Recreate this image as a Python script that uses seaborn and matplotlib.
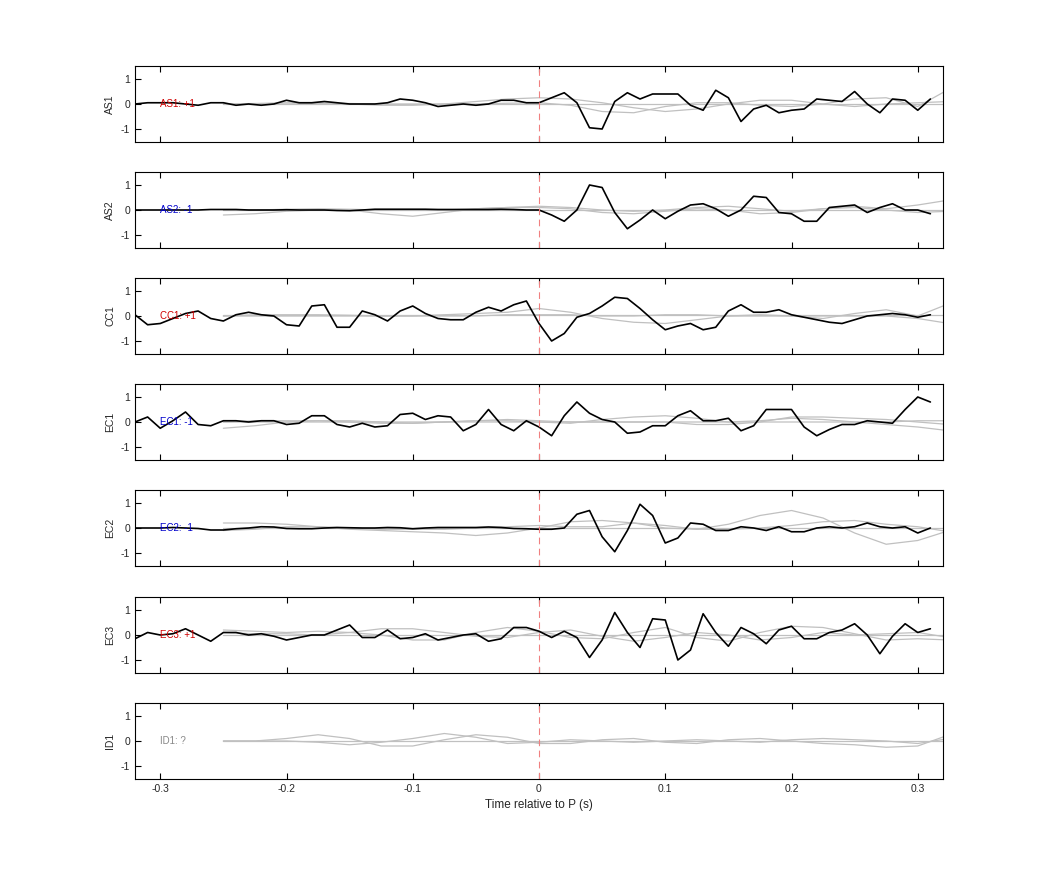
import numpy as np
import pandas as pd
import matplotlib
matplotlib.use("Agg")
import matplotlib.pyplot as plt
import seaborn as sns

stations = ["AS1", "AS2", "CC1", "EC1", "EC2", "EC3", "ID1"]
polarity_labels = ["AS1: +1", "AS2: -1", "CC1: +1", "EC1: -1", "EC2: -1", "EC3: +1", "ID1: ?"]
label_colors = ["#d00000", "#0000cc", "#d00000", "#0000cc", "#0000cc", "#d00000", "#888888"]

t_start = -0.32
dt = 0.01

AS1 = [0, .05, .05, .05, 0, -.05, .05, .05, -.05, 0, -.05, 0, .15, .05, .05, .1, .05, 0, 0, 0,
       .05, .2, .15, .05, -.1, -.05, 0, -.05, 0, .15, .15, .05,
       .05, .25, .45, .05, -.95, -1.0, .1, .45, .2, .4, .4, .4, -.05, -.25, .55, .25, -.7, -.2,
       -.05, -.35, -.25, -.2, .2, .15, .1, .5, 0, -.35, .2, .15, -.25, .2]
AS2 = [0, 0, 0, 0, 0, 0, .02, .02, .02, 0, 0, 0, .01, 0, 0, 0, -.02, -.03, 0, .03,
       .03, .03, .03, .03, .02, .02, .02, .02, .02, .03, .02, 0,
       0, -.2, -.45, 0, 1.0, .9, -.1, -.75, -.4, 0, -.35, -.05, .2, .25, .05, -.25, 0, .55,
       .5, -.1, -.15, -.45, -.45, .1, .15, .2, -.1, .1, .25, 0, 0, -.15]
CC1 = [.05, -.35, -.3, -.1, .1, .2, -.1, -.2, .05, .15, .05, 0, -.35, -.4, .4, .45, -.45, -.45, .2, .05,
       -.2, .2, .4, .1, -.1, -.15, -.15, .15, .35, .2, .45, .6,
       -.3, -1.0, -.7, -.05, .1, .4, .75, .7, .3, -.15, -.55, -.4, -.3, -.55, -.45, .2, .45, .15,
       .15, .25, .05, -.05, -.15, -.25, -.3, -.15, 0, .05, .1, .05, -.05, .05]
EC1 = [0, .2, -.25, .05, .4, -.1, -.15, .05, .05, 0, .05, .05, -.1, -.05, .25, .25, -.1, -.2, -.05, -.2,
       -.15, .3, .35, .1, .25, .2, -.35, -.1, .5, -.1, -.35, .05,
       -.2, -.55, .25, .8, .35, .1, 0, -.45, -.4, -.15, -.15, .25, .45, .05, .05, .15, -.35, -.15,
       .5, .5, .5, -.2, -.55, -.3, -.1, -.1, .05, 0, -.05, .5, 1.0, .8]
EC2 = [0, 0, 0, .02, 0, -.02, -.08, -.08, -.03, 0, .05, .04, -.02, -.03, -.03, 0, .02, .01, 0, 0,
       .02, .01, -.03, 0, .02, .02, .02, .02, .04, .02, -.02, -.03,
       -.05, -.05, 0, .55, .7, -.35, -.95, -.1, .95, .5, -.6, -.4, .2, .15, -.1, -.1, .05, 0,
       -.1, .05, -.15, -.15, 0, .05, 0, .05, .2, .05, 0, .05, -.2, 0]
EC3 = [-.15, .1, 0, .05, .25, 0, -.25, .1, .1, 0, .05, -.05, -.2, -.1, 0, 0, .2, .4, -.1, -.1,
       .2, -.15, -.1, .05, -.2, -.1, 0, .05, -.25, -.15, .3, .3,
       .15, -.1, .15, -.1, -.9, -.2, .9, .1, -.5, .65, .6, -1.0, -.6, .85, .1, -.45, .3, .05,
       -.35, .2, .35, -.15, -.15, .1, .2, .45, 0, -.75, -.05, .45, .1, .25]
traces = [AS1, AS2, CC1, EC1, EC2, EC3, None]

g_start = -0.25
g_dt = 0.025
grey_AS1 = [[0, .02, .05, .05, 0, -.05, -.05, 0, .1, .2, .25, .2, .05, -.15, -.3, -.2, 0, .15, .15, 0, -.1, 0, .05, .1],
            [0, 0, 0, .02, .02, 0, 0, 0, 0, .03, .05, -.05, -.3, -.35, -.1, .05, .05, -.05, -.1, 0, .2, .25, -.1, .6],
            [0, 0, 0, 0, 0, 0, 0, 0, 0, 0, 0, 0, 0, 0, 0, 0, 0, 0, 0, 0, 0, 0, 0, 0]]
grey_AS2 = [[-.2, -.15, -.05, 0, 0, -.15, -.25, -.1, .05, .1, .15, .1, 0, -.05, 0, .1, .15, .05, -.05, .05, .15, .05, .2, .4],
            [0, 0, .03, .05, .03, 0, 0, 0, .05, .1, .1, .05, -.1, -.15, -.05, .05, 0, -.15, -.1, .05, .1, 0, -.1, -.05],
            [0, 0, 0, 0, 0, 0, 0, 0, 0, 0, 0, 0, 0, 0, 0, 0, 0, 0, 0, 0, 0, 0, 0, 0]]
grey_CC1 = [[0, .05, .05, .05, .03, 0, 0, .05, .1, .15, .3, .15, -.1, -.25, -.3, -.15, 0, .05, 0, -.1, .1, .25, 0, .5],
            [0, 0, 0, 0, 0, 0, 0, 0, 0, .05, .05, .05, 0, 0, .05, .05, 0, 0, 0, 0, 0, 0, -.1, -.3],
            [.05, .05, .05, .05, .05, .05, .05, .05, .05, .05, .05, .05, .05, .05, .05, .05, .05, .05, .05, .05, .05, .05, .05, .05]]
grey_EC1 = [[-.25, -.15, 0, .05, .05, 0, -.05, 0, .05, .05, 0, -.05, .1, .2, .25, .15, 0, .05, .15, .1, 0, -.1, -.2, -.35],
            [0, .05, .05, .05, 0, -.05, -.05, 0, .05, .1, .05, 0, 0, 0, 0, -.1, -.1, 0, .2, .2, .15, .1, 0, -.1],
            [0, 0, 0, 0, 0, 0, 0, 0, 0, 0, 0, 0, 0, 0, 0, 0, 0, 0, 0, 0, 0, 0, .05, .05]]
grey_EC2 = [[.2, .2, .15, .05, -.05, -.1, -.15, -.2, -.3, -.2, 0, .25, .3, .2, 0, -.05, .15, .5, .7, .4, -.2, -.65, -.5, -.1],
            [-.1, -.05, .05, .05, 0, -.05, -.05, -.05, 0, .05, .1, .05, .05, .2, .1, -.05, -.05, 0, .1, .25, .3, .15, .05, -.15],
            [0, 0, 0, 0, 0, 0, 0, 0, 0, 0, 0, 0, 0, 0, 0, 0, 0, 0, 0, 0, 0, 0, 0, 0]]
grey_EC3 = [[.2, .15, .1, .15, .1, 0, -.2, -.2, .1, .3, .15, -.1, -.15, .1, .3, -.1, -.25, .1, .35, .3, .05, -.2, -.15, -.2],
            [.1, .05, .05, 0, .1, .25, .25, .1, -.05, -.1, .1, .2, -.05, -.25, -.1, .1, 0, -.2, -.1, .1, 0, .05, .1, -.1],
            [0, 0, 0, 0, 0, 0, 0, 0, 0, 0, 0, 0, 0, 0, 0, 0, 0, 0, 0, 0, 0, 0, 0, 0]]
grey_ID1 = [[0, 0, .1, .25, .1, -.2, -.2, .05, .25, .15, -.1, -.1, .05, .1, -.05, -.1, .05, .1, 0, -.1, -.15, -.25, -.2, .25],
            [0, 0, 0, -.05, -.15, -.05, .1, .3, .15, -.1, -.05, .05, 0, -.05, 0, .05, 0, -.05, .05, .1, .05, 0, -.1, .1],
            [0, 0, 0, 0, 0, 0, 0, 0, 0, 0, 0, 0, 0, 0, 0, 0, 0, 0, 0, 0, 0, 0, 0, 0]]
greys = [grey_AS1, grey_AS2, grey_CC1, grey_EC1, grey_EC2, grey_EC3, grey_ID1]

xticks = [-0.3, -0.2, -0.1, 0, 0.1, 0.2, 0.3]
xticklabels = ["-0.3", "-0.2", "-0.1", "0", "0.1", "0.2", "0.3"]
yticks = [-1, 0, 1]
yticklabels = ["-1", "0", "1"]

sns.set_theme(style="white")
plt.rcParams["font.family"] = ["Liberation Sans", "DejaVu Sans"]
plt.rcParams["axes.unicode_minus"] = False
fig = plt.figure(figsize=(10.42, 8.75), dpi=100)
W, H = 1042, 875
left, right = 135 / W, 943 / W
tops = [66, 172, 278, 384, 490, 597, 703]
for i, st in enumerate(stations):
    ax = fig.add_axes([left, 1 - (tops[i] + 76) / H, right - left, 76 / H])
    for g in greys[i]:
        gx = g_start + g_dt * np.arange(len(g))
        sns.lineplot(x=gx, y=g, ax=ax, color="#c0c0c0", lw=0.9, estimator=None, sort=False)
    if traces[i] is not None:
        y = traces[i]
        x = t_start + dt * np.arange(len(y))
        sns.lineplot(x=x, y=y, ax=ax, color="black", lw=1.2, estimator=None, sort=False)
    ax.axvline(0, color="#f08080", ls=(0, (6, 4)), lw=0.8)
    ax.text(-0.3, 0, polarity_labels[i], color=label_colors[i], fontsize=7, va="center", zorder=10)
    ax.set_xlim(-0.32, 0.32)
    ax.set_ylim(-1.52, 1.52)
    ax.set_yticks(yticks)
    ax.set_yticklabels(yticklabels)
    ax.set_ylabel(st, fontsize=7.5)
    ax.set_xticks(xticks)
    ax.tick_params(axis="both", direction="in", length=4, labelsize=7.5, top=True, bottom=True,
                   left=True, right=False, width=0.8, color="black")
    if i == len(stations) - 1:
        ax.set_xticklabels(xticklabels)
        ax.set_xlabel("Time relative to P (s)", fontsize=8.5)
    else:
        ax.set_xticklabels([])
    for s in ax.spines.values():
        s.set_color("black")
        s.set_linewidth(0.8)

fig.savefig("out.png", dpi=100)
